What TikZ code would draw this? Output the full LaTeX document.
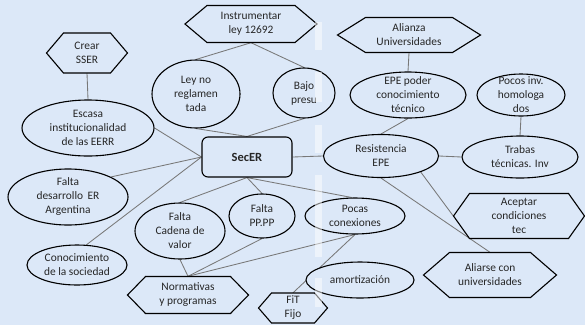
\documentclass[tikz,border=0pt]{standalone}
\usepackage{fontspec}
\setmainfont{Carlito}
\usetikzlibrary{shapes.geometric,calc,backgrounds}
\definecolor{bg}{RGB}{220,232,248}
\definecolor{linkgray}{RGB}{120,120,120}
\tikzset{
  txt/.style={font=\fontsize{11.4}{14}\selectfont, text=black!85, align=center},
  oval/.style={txt, ellipse, draw=black, line width=1.1pt, fill=bg, inner sep=-8pt},
  hexbox/.style={txt, inner sep=0pt},
  hexline/.style={draw=black, line width=1.1pt, fill=bg, line join=miter},
  centre/.style={txt, draw=black, line width=1.1pt, fill=bg, rounded corners=6pt,
    inner sep=0pt, font=\bfseries\fontsize{12.5}{15}\selectfont},
  link/.style={draw=linkgray, line width=0.85pt},
  streak/.style={fill=white, opacity=0.5},
}
% \hexnode{name}{x}{y}{width}{height}{indent}{text}
\newcommand\hexnode[7]{%
  \path[hexline,shift={(#2,#3)}] (-#4/2,0) -- (-#4/2+#6,-#5/2) -- (#4/2-#6,-#5/2)
    -- (#4/2,0) -- (#4/2-#6,#5/2) -- (-#4/2+#6,#5/2) -- cycle;
  \node[hexbox, minimum width=#4pt, minimum height=#5pt] (#1) at (#2,#3) {#7};}
\begin{document}
\begin{tikzpicture}[x=1pt,y=-1pt]
\useasboundingbox (0,0) rectangle (585,325);

% hexagons
\hexnode{instr}{251}{24}{132}{37}{22}{Instrumentar\\ley 12692}
\hexnode{crear}{87}{53}{81}{40}{17}{Crear\\SSER}
\hexnode{alianza}{409}{35}{143}{35}{28}{Alianza\\Universidades}
\hexnode{aceptar}{519}{216}{131}{45}{16}{Aceptar\\condiciones\\tec}
\hexnode{aliarse}{490}{275}{133}{45}{26}{Aliarse con\\universidades}
\hexnode{normas}{188}{295}{121}{37}{18}{Normativas\\y programas}
\hexnode{fit}{293}{308}{69}{30}{13}{FiT\\Fijo}

% ellipses
\node[oval, minimum width=88pt, minimum height=68pt] (ley) at (196,94) {Ley no\\reglamen\\tada};
\node[oval, minimum width=62pt, minimum height=50pt] (bajo) at (304,93) {Bajo\\presu};
\node[oval, minimum width=132pt, minimum height=56pt] (escasa) at (88,128) {Escasa\\institucionalidad\\de las EERR};
\node[oval, minimum width=116pt, minimum height=46pt] (epepoder) at (408,95) {EPE poder\\conocimiento\\técnico};
\node[oval, minimum width=88pt, minimum height=42pt] (pocosinv) at (521,95) {Pocos inv.\\homologa\\dos};
\node[oval, minimum width=115pt, minimum height=43pt] (resist) at (381,156) {Resistencia\\EPE};
\node[oval, minimum width=116pt, minimum height=42pt] (trabas) at (520,157) {Trabas\\técnicas. Inv};
\node[oval, minimum width=120pt, minimum height=56pt] (faltades) at (68,197) {Falta\\desarrollo\, ER\\Argentina};
\node[oval, minimum width=90pt, minimum height=56pt] (cadena) at (180,231) {Falta\\Cadena de\\valor};
\node[oval, minimum width=66pt, minimum height=44pt] (pppp) at (262,216) {Falta\\PP.PP};
\node[oval, minimum width=100pt, minimum height=36pt] (pocas) at (355,216) {Pocas\\conexiones};
\node[oval, minimum width=100pt, minimum height=40pt] (conoc) at (77,265) {Conocimiento\\de la sociedad};
\node[oval, minimum width=108pt, minimum height=36pt] (amort) at (360,280) {amortización};

% central node
\node[centre, minimum width=90pt, minimum height=40pt] (secer) at (247,157) {SecER};

% background and connectors
\begin{scope}[on background layer]
  \fill[bg] (0,0) rectangle (585,325);
  \draw[link] (instr.south) -- (ley.north);
  \draw[link] (instr.south) -- (bajo.north);
  \draw[link] (ley.south) -- (secer.north);
  \draw[link] (bajo.south) -- (secer.north);
  \draw[link] (crear.south) -- (escasa.north);
  \draw[link] (escasa.east) -- (secer.west);
  \draw[link] (faltades.25) -- (secer.west);
  \draw[link] (conoc.65) -- (secer.west);
  \draw[link] (secer.south) -- (cadena.north);
  \draw[link] (secer.south) -- (pppp.north);
  \draw[link] (secer.south) -- (pocas.100);
  \draw[link] (secer.east) -- (resist.west);
  \draw[link] (cadena.south) -- (normas.north);
  \draw[link] (pppp.south) -- (normas.north);
  \draw[link] (pocas.south) -- (normas.north);
  \draw[link] (pocas.south) -- (fit.north);
  \draw[link] (epepoder.south) -- (resist.north);
  \draw[link] (epepoder.north) -- (alianza.south);
  \draw[link] (resist.east) -- (trabas.west);
  \draw[link] (pocosinv.south) -- (trabas.north);
  \draw[link] (resist.-22) -- (aceptar.west);
  \draw[link] (resist.south) -- (aliarse.north);
\end{scope}

% pale vertical streaks
\fill[streak] (315,22) rectangle (322,50);
\fill[streak] (315,72) rectangle (322,102);
\fill[streak] (315,125) rectangle (322,153);
\fill[streak] (315,175) rectangle (322,257);
\fill[streak] (315,278) rectangle (322,307);
\end{tikzpicture}
\end{document}
